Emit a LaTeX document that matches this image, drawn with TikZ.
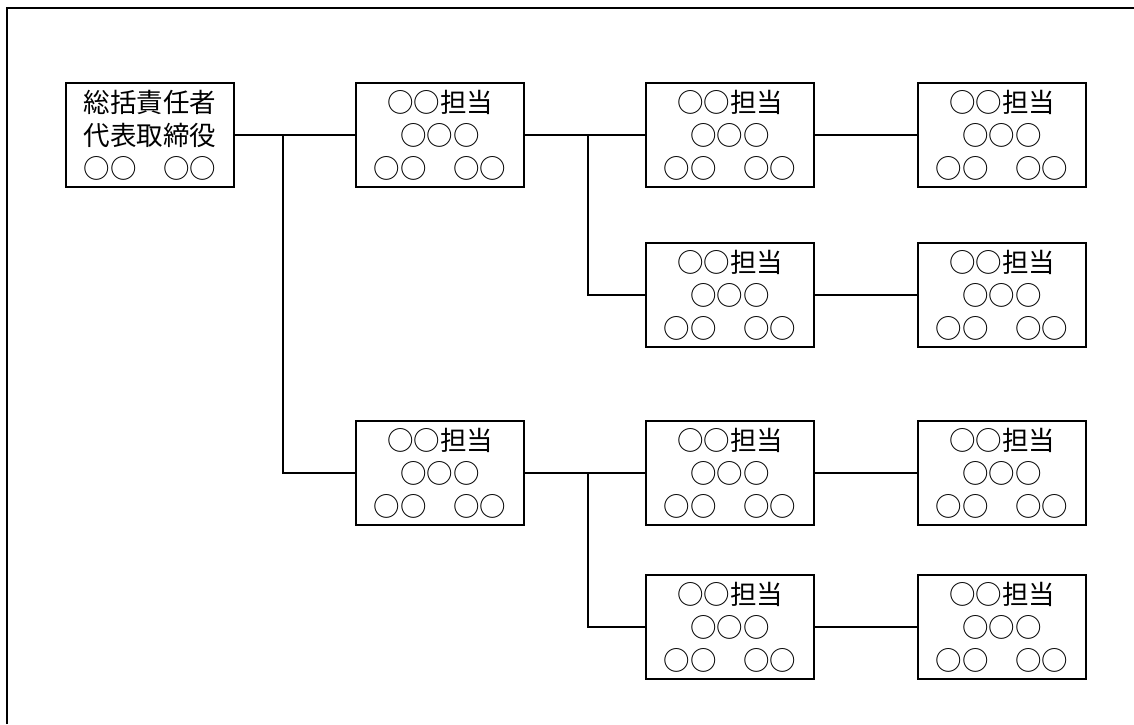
\documentclass[tikz,border=0pt]{standalone}
\usepackage{fontspec}
\setmainfont{Noto Sans CJK JP}
\begin{document}
\begin{tikzpicture}[x=1pt,y=-1pt,
  box/.style={draw,line width=1.5pt,minimum width=168pt,minimum height=104pt,inner sep=0pt,
    align=center,font=\fontsize{26.5}{33}\selectfont},
  conn/.style={line width=2pt}]
\useasboundingbox (0,0) rectangle (1134,724);
\draw[line width=2pt] (7,724) -- (7,8) -- (1134,8);
\node[box] (b1) at (150,135) {総括責任者\\代表取締役\\○○　○○};
\node[box] (b2) at (440,135) {○○担当\\○○○\\○○　○○};
\node[box] (b3) at (440,473) {○○担当\\○○○\\○○　○○};
\node[box] (c1) at (730,135) {○○担当\\○○○\\○○　○○};
\node[box] (c2) at (730,295) {○○担当\\○○○\\○○　○○};
\node[box] (c3) at (730,473) {○○担当\\○○○\\○○　○○};
\node[box] (c4) at (730,627) {○○担当\\○○○\\○○　○○};
\node[box] (d1) at (1002,135) {○○担当\\○○○\\○○　○○};
\node[box] (d2) at (1002,295) {○○担当\\○○○\\○○　○○};
\node[box] (d3) at (1002,473) {○○担当\\○○○\\○○　○○};
\node[box] (d4) at (1002,627) {○○担当\\○○○\\○○　○○};
\coordinate (j1) at (283,135);
\coordinate (j2) at (588,135);
\coordinate (j3) at (588,473);
\draw[conn] (b1.east) -- (b2.west);
\draw[conn] (j1) |- (b3.west);
\draw[conn] (b2.east) -- (c1.west);
\draw[conn] (j2) |- (c2.west);
\draw[conn] (b3.east) -- (c3.west);
\draw[conn] (j3) |- (c4.west);
\draw[conn] (c1.east) -- (d1.west);
\draw[conn] (c2.east) -- (d2.west);
\draw[conn] (c3.east) -- (d3.west);
\draw[conn] (c4.east) -- (d4.west);
\end{tikzpicture}
\end{document}
